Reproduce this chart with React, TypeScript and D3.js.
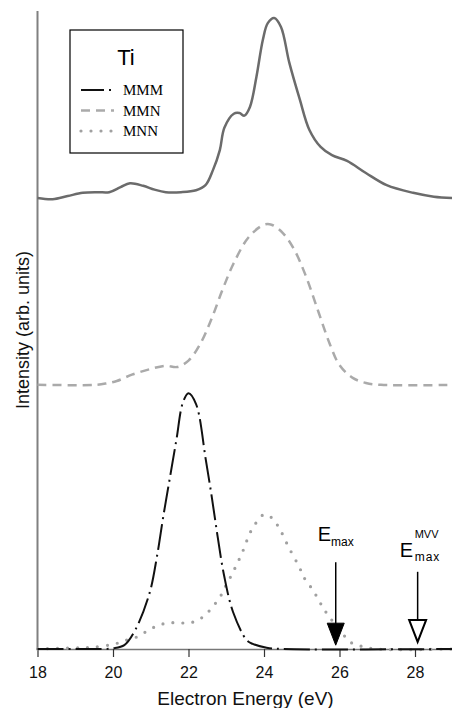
import React, { useRef, useEffect } from 'react';
import * as d3 from 'd3';

const WIDTH = 452;
const HEIGHT = 708;

// measured Ti spectrum (offset upward)
const tiEnergy = [18.0, 18.4, 18.8, 19.2, 19.6, 19.9, 20.2, 20.45, 20.8, 21.1, 21.4, 21.8, 22.2, 22.45, 22.65, 22.83, 22.95, 23.2, 23.35, 23.48, 23.63, 23.8, 23.97, 24.1, 24.27, 24.45, 24.67, 24.95, 25.2, 25.5, 25.8, 26.2, 26.7, 27.25, 27.95, 28.5, 29.0];
const tiIntensity = [0, -0.2, 0.3, 0.8, 0.9, 0.9, 1.7, 2.3, 1.9, 1.3, 0.9, 0.9, 1.2, 2.0, 4.4, 7.5, 11.0, 13.2, 13.3, 12.9, 14.3, 19.0, 24.8, 27.4, 28.2, 26.8, 21.2, 15.4, 10.7, 8.0, 6.7, 5.8, 3.9, 2.0, 0.8, 0.2, 0];
const tiOffset = 70.7;

// MMN (offset)
const mmnEnergy = [18.0, 19.5, 19.8, 20.1, 20.5, 21.0, 21.4, 21.7, 22.0, 22.3, 22.6, 22.9, 23.2, 23.6, 24.0, 24.2, 24.5, 24.8, 25.1, 25.45, 25.75, 26.0, 26.35, 26.7, 27.1, 29.0];
const mmnIntensity = [0, 0, 0.2, 0.6, 1.6, 2.5, 3.0, 2.8, 3.8, 6.3, 10.2, 14.9, 19.1, 23.2, 25.1, 25.1, 23.8, 21.2, 17.2, 11.3, 6.3, 3.1, 1.1, 0.3, 0, 0];
const mmnOffset = 41.4;

// MMM
const mmmEnergy = [18.0, 19.5, 20.0, 20.3, 20.6, 20.97, 21.17, 21.33, 21.5, 21.68, 21.85, 22.0, 22.2, 22.46, 22.62, 22.77, 22.94, 23.18, 23.54, 23.7, 24.07, 24.5, 29.0];
const mmmIntensity = [0, 0, 0.1, 0.6, 3.1, 8.8, 14.7, 20.7, 26.6, 32.8, 38.6, 40.1, 38.4, 29.6, 23.7, 17.7, 11.6, 5.8, 1.4, 0.8, 0.2, 0, 0];

// MNN
const mnnEnergy = [18.0, 19.1, 19.5, 20.05, 20.36, 20.64, 20.9, 21.16, 21.45, 21.74, 22.04, 22.3, 22.52, 22.72, 22.88, 23.01, 23.16, 23.28, 23.41, 23.52, 23.63, 23.78, 23.97, 24.1, 24.23, 24.4, 24.65, 24.93, 25.07, 25.24, 25.4, 25.55, 25.71, 26.07, 26.28, 26.54, 27.0, 29.0];
const mnnIntensity = [0, 0.2, 0.3, 0.8, 1.4, 1.9, 2.8, 3.6, 4.1, 4.1, 4.1, 4.7, 5.8, 7.2, 8.6, 10.2, 11.8, 13.3, 14.9, 16.6, 18.2, 19.7, 21.0, 21.0, 20.4, 19.0, 16.0, 12.9, 11.1, 9.7, 8.2, 6.6, 5.2, 2.5, 1.1, 0.5, 0, 0];

const xTicks = [18, 20, 22, 24, 26, 28];
const legendLabels = ["MMM", "MMN", "MNN"];

// arrows: energy, top of shaft, tip (arb. units)
const eMax = { energy: 25.9, top: 13.6, tip: 0.6 };
const eMaxMVV = { energy: 28.07, top: 12.1, tip: 1.1 };

const sans = "Arial, 'Liberation Sans', sans-serif";
const serif = "'Times New Roman', 'Liberation Serif', serif";

export default function App() {
    const svgRef = useRef<SVGSVGElement>(null);

    useEffect(() => {
        if (!svgRef.current) return;
        const svg = d3.select(svgRef.current);
        svg.selectAll("*").remove();

        const x = d3.scaleLinear().domain([18, 29]).range([37.5, 452.75]);
        const y = d3.scaleLinear().domain([0, 100]).range([649, 11]);

        const styles = {
            MMM: { stroke: "#111", width: 2, dash: "26,5,2,5", cap: "butt" },
            MMN: { stroke: "#aaaaaa", width: 2.5, dash: "9,6", cap: "butt" },
            MNN: { stroke: "#a0a0a0", width: 3.2, dash: "0,10", cap: "round" },
        } as Record<string, { stroke: string, width: number, dash: string, cap: string }>;

        const line = (offset: number) => d3.line<[number, number]>()
            .x(d => x(d[0]))
            .y(d => y(d[1] + offset))
            .curve(d3.curveCatmullRom.alpha(0.5));

        // Y axis line
        svg.append("line")
            .attr("x1", x(18)).attr("x2", x(18))
            .attr("y1", y(100)).attr("y2", y(0))
            .attr("stroke", "#808080").attr("stroke-width", 2);

        // X axis
        const xAxis = svg.append("g")
            .attr("transform", `translate(0,${y(0)})`)
            .call(d3.axisBottom(x).tickValues(xTicks).tickSize(8).tickSizeOuter(0).tickPadding(10).tickFormat(d => `${d}`));
        xAxis.select(".domain").attr("stroke", "#777").attr("stroke-width", 1.5);
        xAxis.selectAll(".tick line").attr("stroke", "#333").attr("stroke-width", 1.2);
        xAxis.selectAll("text").style("font-family", sans).style("font-size", "16px").attr("fill", "#111");

        // curves
        svg.append("path")
            .datum(d3.zip(tiEnergy, tiIntensity) as [number, number][])
            .attr("d", line(tiOffset))
            .attr("fill", "none").attr("stroke", "#6b6b6b").attr("stroke-width", 2.5);

        const series = [
            { key: "MMN", e: mmnEnergy, v: mmnIntensity, off: mmnOffset },
            { key: "MNN", e: mnnEnergy, v: mnnIntensity, off: 0 },
            { key: "MMM", e: mmmEnergy, v: mmmIntensity, off: 0 },
        ];
        series.forEach(s => {
            const st = styles[s.key];
            svg.append("path")
                .datum(d3.zip(s.e, s.v) as [number, number][])
                .attr("d", line(s.off))
                .attr("fill", "none")
                .attr("stroke", st.stroke)
                .attr("stroke-width", st.width)
                .attr("stroke-dasharray", st.dash)
                .attr("stroke-linecap", st.cap);
        });

        // arrows
        const tri = 22;
        [eMax, eMaxMVV].forEach((a, i) => {
            const ax = x(a.energy);
            const tipY = y(a.tip);
            svg.append("line")
                .attr("x1", ax).attr("x2", ax)
                .attr("y1", y(a.top)).attr("y2", tipY - tri + 2)
                .attr("stroke", "#000").attr("stroke-width", 1.5);
            svg.append("path")
                .attr("d", `M${ax - 8.5},${tipY - tri} L${ax + 8.5},${tipY - tri} L${ax},${tipY} Z`)
                .attr("fill", i === 0 ? "#000" : "#fff")
                .attr("stroke", "#000")
                .attr("stroke-width", i === 0 ? 1 : 2)
                .attr("stroke-linejoin", "miter");
        });

        // arrow labels
        const l1 = svg.append("text").attr("x", x(eMax.energy) - 18).attr("y", y(eMax.top) - 21)
            .style("font-family", sans).style("font-size", "20px").attr("fill", "#000");
        l1.append("tspan").text("E");
        l1.append("tspan").attr("dy", 5).style("font-size", "12px").text("max");

        const lx = x(eMaxMVV.energy) - 18;
        const ly = y(eMaxMVV.top) - 15;
        svg.append("text").attr("x", lx).attr("y", ly)
            .style("font-family", sans).style("font-size", "20px").attr("fill", "#000").text("E");
        svg.append("text").attr("x", lx + 15).attr("y", ly - 19)
            .style("font-family", sans).style("font-size", "11px").attr("fill", "#000").text("MVV");
        svg.append("text").attr("x", lx + 15).attr("y", ly + 4)
            .style("font-family", sans).style("font-size", "12px").style("letter-spacing", "1px").attr("fill", "#000").text("max");

        // axis titles
        svg.append("text")
            .attr("x", 245.5).attr("y", 705)
            .attr("text-anchor", "middle")
            .style("font-family", sans).style("font-size", "19px").attr("fill", "#111")
            .text("Electron Energy (eV)");
        svg.append("text")
            .attr("transform", `translate(29,${(y(0) + y(100)) / 2}) rotate(-90)`)
            .attr("text-anchor", "middle")
            .style("font-family", sans).style("font-size", "18px").attr("fill", "#111")
            .text("Intensity (arb. units)");

        // legend
        const lg = svg.append("g").attr("transform", "translate(70,30)");
        lg.append("rect").attr("x", 0).attr("y", 0).attr("width", 113).attr("height", 123)
            .attr("fill", "#fff").attr("stroke", "#000").attr("stroke-width", 1.2);
        lg.append("text").attr("x", 56).attr("y", 35).attr("text-anchor", "middle")
            .style("font-family", sans).style("font-size", "22px").attr("fill", "#000").text("Ti");
        legendLabels.forEach((lab, i) => {
            const st = styles[lab];
            const ry = 60 + i * 20.5;
            lg.append("line")
                .attr("x1", 11).attr("x2", 44).attr("y1", ry).attr("y2", ry)
                .attr("stroke", st.stroke).attr("stroke-width", st.width)
                .attr("stroke-dasharray", lab === "MMM" ? "23,5,2,5" : st.dash)
                .attr("stroke-linecap", st.cap);
            lg.append("text").attr("x", 53).attr("y", ry + 5)
                .style("font-family", serif).style("font-size", "15px").attr("fill", "#000").text(lab);
        });
    }, []);

    return (
        <svg ref={svgRef} width={WIDTH} height={HEIGHT}
            style={{ position: "absolute", left: 0, top: 0, background: "#fff" }} />
    );
}
